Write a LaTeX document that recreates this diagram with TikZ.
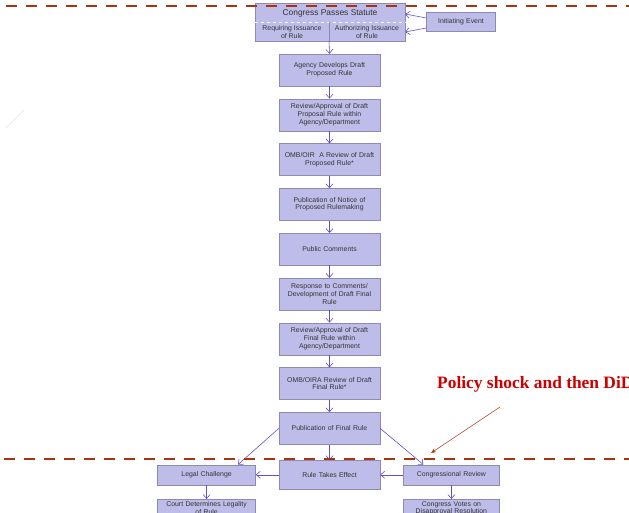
\documentclass[tikz,border=0pt]{standalone}
\usepackage{fontspec}
\setmainfont{Liberation Sans}
\newfontfamily\notefont{Liberation Serif}
\usetikzlibrary{positioning,arrows.meta}
\definecolor{boxfill}{HTML}{BEBDEA}
\definecolor{boxline}{HTML}{8C8AB0}
\definecolor{flow}{HTML}{6650BE}
\definecolor{cutred}{HTML}{A8330F}
\definecolor{notered}{HTML}{CC0000}
\definecolor{txt}{HTML}{333333}

\begin{document}
\begin{tikzpicture}[x=1pt,y=-1pt,font=\fontsize{6.9}{7.6}\selectfont,node distance=12.4pt and 23pt,
stage/.style={draw=boxline,fill=boxfill,text=txt,align=center,minimum width=101pt,minimum height=32pt,inner sep=1pt,text width=97pt},
side/.style={stage,minimum width=98pt,minimum height=20pt,text width=94pt},
arr/.style={-{Straight Barb[length=4pt,width=7pt]},draw=flow,line width=0.6pt},
shockarr/.style={-{Stealth[length=5pt,width=4pt]},draw=cutred,line width=0.5pt},
cutline/.style={draw=cutred,line width=2.8pt,dash pattern=on 10.5pt off 9.5pt},
grp/.style={font=\notefont\bfseries\fontsize{17.4}{19}\selectfont,text=notered,inner sep=0pt}]
\useasboundingbox (0,0) rectangle (629,513);
\node[stage,minimum width=150pt,minimum height=38pt,text width=146pt] (cps) at (330,22) {};
\node[font=\fontsize{8.4}{9}\selectfont,text=txt] (cpstitle) at (330,13) {Congress Passes Statute};
\draw[white,dashed,line width=0.6pt] (cps.west |- 0,22) -- (cps.east |- 0,22);
\draw[boxline,line width=0.5pt] (329,22) -- (cps.south -| 329,0);
\node[text=txt,align=center] (req) at (292,32) {Requiring Issuance\\of Rule};
\node[text=txt,align=center] (auth) at (367,32) {Authorizing Issuance\\of Rule};
\node[stage,minimum width=69pt,minimum height=19pt,text width=65pt] (init) at (461,22) {Initiating Event};
\node[stage] (agency) at (329.5,70) {Agency Develops Draft\\Proposed Rule};
\node[stage,below=of agency] (revdraft) {Review/Approval of Draft\\Proposal Rule within\\Agency/Department};
\node[stage,below=of revdraft] (ombdraft) {OMB/OIR\ \ A Review of Draft\\Proposed Rule*};
\node[stage,below=of ombdraft] (notice) {Publication of Notice of\\Proposed Rulemaking};
\node[stage,below=of notice] (comments) {Public Comments};
\node[stage,below=of comments] (response) {Response to Comments/\\Development of Draft Final\\Rule};
\node[stage,below=of response] (revfinal) {Review/Approval of Draft\\Final Rule within\\Agency/Department};
\node[stage,below=of revfinal] (ombfinal) {OMB/OIRA Review of Draft\\Final Rule*};
\node[stage,below=of ombfinal] (pubfinal) {Publication of Final Rule};
\node[stage,minimum height=29pt,below=15.5pt of pubfinal] (effect) {Rule Takes Effect};
\node[side,left=of effect] (legal) {Legal Challenge};
\node[side,right=of effect,minimum width=96pt,text width=92pt] (congrev) {Congressional Review};
\node[side,minimum height=18pt,below=14pt of legal] (court) {Court Determines Legality\\of Rule};
\node[side,minimum height=18pt,below=14pt of congrev,minimum width=96pt,text width=92pt] (votes) {Congress Votes on\\Disapproval Resolution};
\draw[arr] ([yshift=4pt]init.west) -- ([yshift=8pt]cps.east);
\draw[arr] ([yshift=-6pt]init.west) -- ([yshift=-10pt]cps.east);
\draw[arr] (cps.south -| 329,0) -- (agency.north);
\draw[arr] (agency) -- (revdraft);
\draw[arr] (revdraft) -- (ombdraft);
\draw[arr] (ombdraft) -- (notice);
\draw[arr] (notice) -- (comments);
\draw[arr] (comments) -- (response);
\draw[arr] (response) -- (revfinal);
\draw[arr] (revfinal) -- (ombfinal);
\draw[arr] (ombfinal) -- (pubfinal);
\draw[arr] (pubfinal) -- (effect);
\draw[arr] (pubfinal.west) -- (legal.18);
\draw[arr] (pubfinal.east) -- (congrev.160);
\draw[arr] (effect) -- (legal);
\draw[arr] (congrev) -- (effect);
\draw[arr] (legal) -- (court);
\draw[arr] (congrev) -- (votes);
\coordinate (topcut0) at (6,6);
\coordinate (topcut1) at (640,6);
\coordinate (lowcut0) at (4,459);
\coordinate (lowcut1) at (640,459);
\draw[cutline] (topcut0) -- (topcut1);
\draw[cutline] (lowcut0) -- (lowcut1);
\node[grp,anchor=west] (shock) at (437,384) {Policy shock and then DiD};
\coordinate (shocktail) at (500,407);
\coordinate (shocktip) at (431,453);
\draw[shockarr] (shocktail) -- (shocktip);
\draw[gray!20,line width=0.5pt] (6,128) -- (24,110);
\end{tikzpicture}
\end{document}
